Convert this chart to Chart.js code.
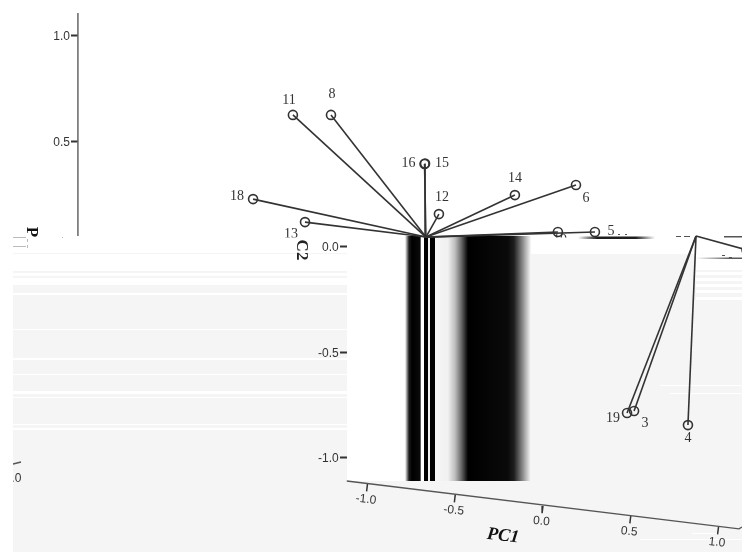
<!DOCTYPE html>
<html>
<head>
<meta charset="utf-8">
<title>PC1 PC2 loadings</title>
<script src="https://cdn.jsdelivr.net/npm/chart.js@4/dist/chart.umd.min.js"></script>
<style>
    html, body { margin: 0; padding: 0; background: #fff; }
    canvas { display: block; }
</style>
</head>
<body>
<canvas id="loadings" width="742" height="552"></canvas>
<script>
// loadings
const itemIds = ['11', '8', '16', '15', '14', '12', '6', '18', '13', '10', '5', '19', '3', '4', ''];
const pc1Values = [-1.425, -1.208, -0.675, -0.672, -0.160, -0.593, 0.188, -1.652, -1.356, 0.085, 0.296, 0.479, 0.519, 0.826, 1.16];
const pc2Values = [0.626, 0.626, 0.393, 0.396, 0.246, 0.156, 0.294, 0.227, 0.118, 0.071, 0.071, -0.787, -0.777, -0.844, -0.014];
const hubIndex = [0, 0, 0, 0, 0, 0, 0, 0, 0, 0, 0, 1, 1, 1, 1];
const hubPc1 = [-0.667, 0.872];
const hubPc2 = [0.047, 0.052];

const upperYTicks = [1.0, 0.5];
const lowerYTicks = [0.0, -0.5, -1.0];
const upperAxisLinePc1 = -2.65;
const lowerAxisLinePc1 = -1.1185;
const upperAxisLinePc2 = [1.109, 0.052];

// the tilted PC1 axis
const xAxisLinePc1 = [-1.118, 1.117, 1.134];
const xAxisLinePc2 = [-1.109, -1.336, -1.327];
const xTickValues = [-1.0, -0.5, 0.0, 0.5, 1.0];
const xTickBasePc2 = [-1.123, -1.175, -1.227, -1.275, -1.327];
const xTickLabels = ['-1.0', '-0.5', '0.0', '0.5', '1.0'];

const ink = '#333';
const labelOffsets = [[-4, -15], [1, -21], [-16, -1], [17, 0], [0, -17], [3, -17], [10, 13], [-16, -3], [-14, 12], [2, 8], [16, -1], [-14, 5], [11, 12], [0, 13], [0, 0]];
const clippedLabels = ['13', '10'];

const grayRects = [
    [13, 285, 334, 267], [531, 254, 165, 227], [347, 481, 395, 71], [696, 300, 46, 181],
    [13, 253, 334, 1], [13, 271, 334, 2], [13, 276, 334, 2],
    [696, 270, 46, 2], [696, 275, 46, 3], [696, 281, 46, 3], [696, 287, 46, 3], [696, 293, 46, 4]
];
const whiteStrips = [
    [13, 293, 334, 2], [13, 329, 334, 1], [13, 358, 334, 2], [13, 374, 334, 1], [13, 391, 334, 3],
    [13, 397, 334, 1], [13, 424, 334, 1], [13, 428, 334, 2],
    [660, 385, 82, 1], [670, 393, 72, 1], [692, 533, 28, 1], [640, 539, 102, 1]
];
const bandStops = [
    [405, 255], [409, 30], [412, 0], [420, 10], [421.5, 255], [423.5, 255], [424.5, 0], [427.5, 0], [428.5, 240], [429.5, 240],
    [430.5, 0], [434.5, 0], [435.5, 245], [448, 240], [455, 190], [461, 110], [468, 0], [508, 10], [514, 30], [522, 130], [531, 250]
];

const spokeDatasets = pc1Values.map(function(value, i) {
    const hub = hubIndex[i];
    return {
        type: 'line',
        data: [{ x: hubPc1[hub], y: hubPc2[hub] }, { x: value, y: pc2Values[i] }],
        borderColor: ink,
        borderWidth: 1.6,
        pointRadius: [0, 4.5],
        pointBorderWidth: 1.6,
        pointBorderColor: ink,
        pointBackgroundColor: 'rgba(0,0,0,0)'
    };
});

const upperAxisDataset = {
    type: 'line',
    data: upperAxisLinePc2.map(function(v) { return { x: upperAxisLinePc1, y: v }; }),
    borderColor: '#666',
    borderWidth: 1.5,
    pointRadius: 0
};

const xAxisDataset = {
    type: 'line',
    data: xAxisLinePc1.map(function(v, i) { return { x: v, y: xAxisLinePc2[i] }; }),
    borderColor: '#555',
    borderWidth: 1.3,
    pointRadius: 0
};

const xTickDatasets = xTickValues.map(function(v, i) {
    return {
        type: 'line',
        data: [{ x: v, y: xTickBasePc2[i] }, { x: v - 0.005, y: xTickBasePc2[i] - 0.035 }],
        borderColor: '#333',
        borderWidth: 1.5,
        pointRadius: 0
    };
});

function tiltedText(ctx, text, x, y, angle, font, color) {
    ctx.save();
    ctx.translate(x, y);
    ctx.rotate(angle * Math.PI / 180);
    ctx.font = font;
    ctx.fillStyle = color;
    ctx.textAlign = 'center';
    ctx.textBaseline = 'middle';
    ctx.fillText(text, 0, 0);
    ctx.restore();
}

function clipped(ctx, x, y, w, h, draw) {
    ctx.save();
    ctx.beginPath();
    ctx.rect(x, y, w, h);
    ctx.clip();
    draw();
    ctx.restore();
}

function yTickText(ctx, chart, ticks, axisPc1) {
    const right = chart.scales.x.getPixelForValue(axisPc1) - 8;
    ctx.save();
    ctx.font = '12px "Liberation Sans"';
    ctx.fillStyle = ink;
    ctx.textAlign = 'right';
    ctx.textBaseline = 'middle';
    ticks.forEach(function(v) {
        ctx.fillText(v.toFixed(1), right, chart.scales.y.getPixelForValue(v) + 1);
    });
    ctx.restore();
}

const backdrop = {
    id: 'backdrop',
    beforeDraw: function(chart) {
        const ctx = chart.ctx;
        ctx.fillStyle = '#fff';
        ctx.fillRect(0, 0, 742, 552);
        ctx.fillStyle = '#f5f5f5';
        grayRects.forEach(function(r) { ctx.fillRect(r[0], r[1], r[2], r[3]); });
        ctx.fillStyle = '#fff';
        whiteStrips.forEach(function(r) { ctx.fillRect(r[0], r[1], r[2], r[3]); });
    },
    beforeDatasetsDraw: function(chart) {
        const ctx = chart.ctx;
        const band = ctx.createLinearGradient(405, 0, 531, 0);
        bandStops.forEach(function(s) {
            band.addColorStop((s[0] - 405) / 126, 'rgb(' + s[1] + ',' + s[1] + ',' + s[1] + ')');
        });
        ctx.fillStyle = band;
        ctx.fillRect(405, 236, 126, 245);

        // smeared fragments along the seam
        const smear = ctx.createLinearGradient(578, 0, 655, 0);
        smear.addColorStop(0, 'rgba(30,30,30,0)');
        smear.addColorStop(0.25, 'rgba(30,30,30,1)');
        smear.addColorStop(0.75, 'rgba(30,30,30,1)');
        smear.addColorStop(1, 'rgba(30,30,30,0)');
        ctx.fillStyle = smear;
        ctx.fillRect(578, 236.5, 77, 2.5);
        const smearRight = ctx.createLinearGradient(696, 0, 730, 0);
        smearRight.addColorStop(0, 'rgba(90,90,90,0)');
        smearRight.addColorStop(1, 'rgba(90,90,90,1)');
        ctx.fillStyle = smearRight;
        ctx.fillRect(696, 257.5, 46, 1.5);
        ctx.fillStyle = '#555';
        [[676, 236, 5, 1], [684, 236, 6, 1], [724, 236, 18, 1.5], [618, 234, 2, 1], [625, 234, 2, 1], [722, 255, 3, 1], [729, 257, 3, 1]].forEach(function(r) {
            ctx.fillRect(r[0], r[1], r[2], r[3]);
        });
        ctx.fillStyle = '#bbb';
        [[13, 237, 13, 1], [13, 246, 13, 1], [27, 239, 1, 3], [27, 245, 1, 3], [62, 237, 1, 1]].forEach(function(r) {
            ctx.fillRect(r[0], r[1], r[2], r[3]);
        });
    },
    afterDatasetsDraw: function(chart) {
        const ctx = chart.ctx;
        const xScale = chart.scales.x;
        const yScale = chart.scales.y;

        yTickText(ctx, chart, upperYTicks, upperAxisLinePc1);
        yTickText(ctx, chart, lowerYTicks, lowerAxisLinePc1);

        itemIds.forEach(function(id, i) {
            if (!id) return;
            const px = xScale.getPixelForValue(pc1Values[i]) + labelOffsets[i][0];
            const py = yScale.getPixelForValue(pc2Values[i]) + labelOffsets[i][1];
            const font = '14px "Liberation Serif"';
            if (clippedLabels.includes(id)) {
                clipped(ctx, 0, 0, 742, 237.5, function() { tiltedText(ctx, id, px, py, 0, font, ink); });
            } else {
                tiltedText(ctx, id, px, py, 0, font, ink);
            }
        });

        xTickLabels.forEach(function(label, i) {
            const px = xScale.getPixelForValue(xTickValues[i]) - 1.5;
            const py = yScale.getPixelForValue(xTickBasePc2[i]) + 15.5;
            tiltedText(ctx, label, px, py, 6, '12px "Liberation Sans"', ink);
        });

        tiltedText(ctx, 'PC1', 503, 536, 7, 'italic bold 18px "Liberation Serif"', '#111');

        clipped(ctx, 20, 225, 20, 12, function() {
            tiltedText(ctx, 'P', 31, 232, 90, 'bold 17px "Liberation Serif"', '#111');
        });
        clipped(ctx, 290, 237, 20, 26, function() {
            tiltedText(ctx, 'C2', 301, 250, 90, 'bold 17px "Liberation Serif"', '#222');
        });

        // cut off end of the repeated axis on the left edge
        clipped(ctx, 13, 455, 20, 35, function() {
            ctx.strokeStyle = '#555';
            ctx.lineWidth = 1.3;
            ctx.beginPath();
            ctx.moveTo(13, 464);
            ctx.lineTo(21, 462);
            ctx.stroke();
            tiltedText(ctx, '1.0', 13, 479, 0, '12px "Liberation Sans"', ink);
        });
    }
};

function noPadding(scale) {
    scale.paddingTop = 0;
    scale.paddingBottom = 0;
    scale.paddingLeft = 0;
    scale.paddingRight = 0;
}

function yAxis(ticks) {
    return {
        axis: 'y',
        type: 'linear',
        min: -1.4455,
        max: 1.1706,
        afterBuildTicks: function(scale) {
            scale.ticks = ticks.map(function(v) { return { value: v }; });
        },
        afterFit: noPadding,
        border: { display: false },
        grid: { drawOnChartArea: false, drawTicks: true, tickLength: 7, tickWidth: 2, tickColor: '#333' },
        ticks: { display: false, autoSkip: false }
    };
}

const lowerAxis = yAxis(lowerYTicks);
lowerAxis.position = { x: lowerAxisLinePc1 };
const upperAxis = yAxis(upperYTicks);
upperAxis.position = { x: upperAxisLinePc1 };

new Chart(document.getElementById('loadings').getContext('2d'), {
    type: 'scatter',
    data: { datasets: [upperAxisDataset, xAxisDataset].concat(xTickDatasets, spokeDatasets) },
    options: {
        responsive: false,
        animation: false,
        layout: { padding: 0, autoPadding: false },
        plugins: { legend: { display: false }, tooltip: { enabled: false } },
        scales: {
            x: { type: 'linear', display: false, min: -3.094, max: 1.134 },
            y: lowerAxis,
            yUpper: upperAxis
        }
    },
    plugins: [backdrop]
});
</script>
</body>
</html>
